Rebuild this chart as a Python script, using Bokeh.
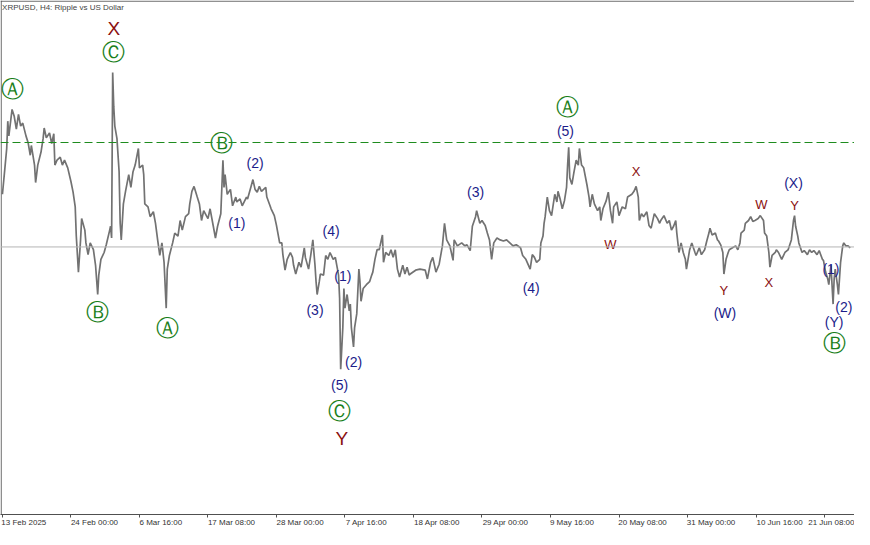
from bokeh.plotting import figure
from bokeh.models import ColumnDataSource, Span, Label, FixedTicker, Range1d
from bokeh.core.properties import value
from bokeh.embed import file_html
from bokeh.resources import INLINE

# XRPUSD H4 closes (bar index from 13 Feb 2025 08:00, price in USD)
bars = [
    0, 2, 4, 5, 6, 9, 11, 13, 15, 17, 19, 22, 24, 26, 27, 30, 31, 33, 36, 38,
    39, 41, 44, 46, 48, 49, 51, 54, 56, 58, 61, 64, 66, 68, 69, 71, 73, 74, 77, 78,
    80, 82, 85, 87, 89, 90, 92, 95, 97, 100, 101, 102, 103, 104, 105, 107, 109, 110, 111, 113,
    115, 118, 120, 122, 124, 127, 128, 131, 132, 133, 136, 138, 141, 143, 145, 147, 149, 151, 153, 154,
    156, 159, 161, 164, 166, 168, 171, 174, 175, 177, 179, 182, 184, 186, 188, 192, 194, 197, 199, 201,
    204, 206, 207, 208, 210, 213, 215, 218, 219, 222, 224, 228, 229, 232, 234, 236, 238, 240, 242, 246,
    247, 250, 251, 254, 256, 259, 261, 262, 264, 266, 269, 271, 272, 274, 277, 279, 282, 283, 286, 288,
    290, 292, 293, 294, 296, 297, 300, 302, 304, 306, 309, 311, 313, 314, 315, 316, 318, 319, 320, 322,
    324, 325, 326, 328, 329, 331, 333, 334, 335, 337, 340, 343, 345, 346, 348, 350, 352, 355, 356, 358,
    361, 363, 365, 367, 369, 371, 374, 376, 378, 380, 381, 386, 390, 395, 397, 400, 402, 405, 408, 411,
    413, 415, 418, 421, 422, 425, 429, 432, 434, 437, 439, 442, 443, 446, 448, 451, 453, 455, 457, 459,
    462, 465, 468, 471, 474, 477, 480, 484, 486, 489, 493, 495, 497, 499, 502, 503, 505, 506, 507, 509,
    511, 513, 516, 518, 519, 521, 523, 525, 527, 528, 529, 530, 532, 534, 536, 538, 539, 541, 543, 546,
    548, 549, 551, 553, 556, 558, 559, 561, 564, 566, 568, 570, 571, 574, 576, 579, 582, 584, 588, 590,
    592, 594, 595, 597, 599, 602, 604, 606, 609, 612, 614, 615, 618, 621, 623, 625, 627, 629, 630, 632,
    634, 636, 638, 639, 642, 644, 647, 648, 651, 653, 656, 658, 660, 661, 663, 666, 668, 669, 671, 673,
    674, 676, 678, 679, 682, 685, 687, 689, 690, 693, 694, 697, 699, 701, 703, 706, 708, 711, 712, 714,
    716, 717, 719, 722, 723, 725, 728, 731, 733, 734, 737, 739, 740, 741, 743, 744, 747, 749, 752, 754,
    756, 758, 761, 763, 766, 767, 769, 771, 772, 774, 776, 777, 778, 780, 781, 783, 785, 786, 788, 790,
    792,
]
close = [
    2.447, 2.553, 2.662, 2.790, 2.721, 2.845, 2.813, 2.753, 2.822, 2.767, 2.781, 2.721, 2.689, 2.630, 2.676, 2.584, 2.502, 2.584, 2.644, 2.708,
    2.758, 2.712, 2.735, 2.685, 2.731, 2.584, 2.607, 2.621, 2.584, 2.607, 2.571, 2.507, 2.457, 2.388, 2.251, 2.082, 2.233, 2.333, 2.279, 2.219,
    2.164, 2.219, 2.187, 2.114, 1.977, 2.068, 2.142, 2.174, 2.210, 2.274, 2.297, 2.242, 3.018, 2.858, 2.767, 2.708, 2.553, 2.311, 2.233, 2.402,
    2.461, 2.539, 2.479, 2.553, 2.584, 2.662, 2.571, 2.584, 2.539, 2.402, 2.388, 2.342, 2.365, 2.311, 2.233, 2.160, 2.219, 2.128, 1.913, 2.096,
    2.160, 2.219, 2.265, 2.251, 2.324, 2.279, 2.342, 2.356, 2.402, 2.461, 2.484, 2.434, 2.402, 2.324, 2.370, 2.333, 2.379, 2.297, 2.242, 2.297,
    2.356, 2.607, 2.479, 2.539, 2.447, 2.470, 2.393, 2.434, 2.411, 2.425, 2.393, 2.434, 2.425, 2.479, 2.516, 2.470, 2.457, 2.484, 2.461, 2.479,
    2.434, 2.393, 2.379, 2.347, 2.301, 2.219, 2.219, 2.164, 2.091, 2.142, 2.174, 2.151, 2.114, 2.073, 2.128, 2.105, 2.196, 2.151, 2.096, 2.160,
    2.233, 2.114, 2.037, 1.977, 2.037, 2.073, 2.068, 2.160, 2.142, 2.174, 2.142, 2.151, 2.096, 2.068, 1.959, 1.626, 1.822, 2.005, 1.913, 1.977,
    1.900, 1.932, 1.822, 1.731, 1.822, 1.886, 2.096, 2.037, 1.945, 2.005, 2.023, 2.037, 2.068, 2.082, 2.142, 2.187, 2.187, 2.256, 2.128, 2.174,
    2.160, 2.187, 2.151, 2.187, 2.096, 2.059, 2.114, 2.073, 2.105, 2.068, 2.073, 2.091, 2.096, 2.091, 2.050, 2.128, 2.151, 2.082, 2.119, 2.205,
    2.311, 2.233, 2.205, 2.137, 2.233, 2.205, 2.219, 2.205, 2.210, 2.183, 2.297, 2.342, 2.370, 2.311, 2.324, 2.301, 2.265, 2.233, 2.142, 2.219,
    2.242, 2.233, 2.228, 2.233, 2.219, 2.205, 2.210, 2.196, 2.160, 2.142, 2.096, 2.164, 2.151, 2.128, 2.142, 2.219, 2.251, 2.311, 2.342, 2.434,
    2.370, 2.347, 2.447, 2.411, 2.461, 2.425, 2.379, 2.416, 2.479, 2.584, 2.667, 2.525, 2.493, 2.553, 2.607, 2.584, 2.662, 2.584, 2.571, 2.493,
    2.434, 2.388, 2.447, 2.402, 2.370, 2.388, 2.324, 2.379, 2.416, 2.457, 2.370, 2.311, 2.388, 2.411, 2.347, 2.388, 2.379, 2.434, 2.447, 2.461,
    2.484, 2.434, 2.324, 2.356, 2.342, 2.365, 2.301, 2.288, 2.356, 2.333, 2.311, 2.324, 2.347, 2.311, 2.324, 2.279, 2.297, 2.324, 2.265, 2.174,
    2.219, 2.174, 2.142, 2.096, 2.187, 2.219, 2.174, 2.160, 2.196, 2.164, 2.187, 2.228, 2.265, 2.288, 2.256, 2.265, 2.233, 2.228, 2.210, 2.174,
    2.073, 2.142, 2.174, 2.187, 2.196, 2.205, 2.187, 2.219, 2.265, 2.279, 2.311, 2.324, 2.342, 2.320, 2.324, 2.333, 2.347, 2.324, 2.265, 2.251,
    2.174, 2.105, 2.160, 2.174, 2.187, 2.174, 2.142, 2.174, 2.183, 2.187, 2.233, 2.324, 2.347, 2.297, 2.251, 2.219, 2.174, 2.183, 2.164, 2.187,
    2.174, 2.183, 2.164, 2.183, 2.142, 2.137, 2.082, 2.050, 2.023, 2.114, 1.932, 2.050, 2.096, 2.023, 1.977, 2.128, 2.205, 2.219, 2.205, 2.205,
    2.196,
]

tick_bars = [0, 64, 128, 192, 256, 320, 384, 448, 512, 576, 640, 704, 768]
tick_labels = [
    "13 Feb 2025", "24 Feb 00:00", "6 Mar 16:00", "17 Mar 08:00", "28 Mar 00:00",
    "7 Apr 16:00", "18 Apr 08:00", "29 Apr 00:00", "9 May 16:00", "20 May 08:00",
    "31 May 00:00", "10 Jun 16:00", "21 Jun 08:00",
]

level_dashed = 2.69
level_solid = 2.20

# Elliott wave marks
circled_text = ["Ⓐ", "Ⓒ", "Ⓑ", "Ⓑ", "Ⓐ", "Ⓒ", "Ⓐ", "Ⓑ"]
circled_bar = [9, 104, 205, 89, 154, 315, 528, 777]
circled_price = [2.941, 3.114, 2.689, 1.895, 1.822, 1.429, 2.858, 1.749]

big_text = ["X", "Y"]
big_bar = [104, 317]
big_price = [3.224, 1.301]

small_text = ["X", "W", "W", "Y", "Y", "X"]
small_bar = [592, 568, 709, 740, 674, 716]
small_price = [2.553, 2.210, 2.397, 2.393, 1.995, 2.032]

num_text = ["(2)", "(1)", "(4)", "(1)", "(3)", "(2)", "(5)", "(3)", "(4)", "(5)",
            "(X)", "(W)", "(1)", "(2)", "(Y)"]
num_bar = [236, 219, 307, 318, 292, 328, 315, 442, 494, 526, 739, 675, 774, 786, 777]
num_price = [2.594, 2.311, 2.274, 2.064, 1.904, 1.662, 1.553, 2.457, 2.009, 2.744,
             2.498, 1.890, 2.096, 1.918, 1.849]

x_start, x_end = -1.8, 796.0
y_start, y_end = 0.945, 3.356

p = figure(
    width=854,
    height=529,
    x_range=Range1d(x_start, x_end),
    y_range=Range1d(y_start, y_end),
    y_axis_location=None,
    output_backend="svg",
    toolbar_location=None,
    min_border=0,
)
p.min_border_left = 0
p.min_border_right = 0
p.min_border_top = 0
p.min_border_bottom = 0
p.grid.visible = False
p.outline_line_color = None

# frame edges on the left and top
p.add_layout(Span(location=x_start + 0.6, dimension="height", line_color="#505050", line_width=1))
p.add_layout(Span(location=y_end - 0.003, dimension="width", line_color="#505050", line_width=1))

p.add_layout(Span(location=level_solid, dimension="width", line_color="#b4b4b4", line_width=1))
p.add_layout(Span(location=level_dashed, dimension="width", line_color="#1e8c1e",
                  line_width=1.2, line_dash="8 4"))

p.line(bars, close, line_color="#727272", line_width=1.7)

# MetaTrader style labels start at the tick, so centre them to the right of it
px_per_bar = 854 / (x_end - x_start)
label_centres = [int(round(b + (len(t) * 3.8 / 2 + 1) / px_per_bar)) for b, t in zip(tick_bars, tick_labels)]
p.xaxis.ticker = FixedTicker(ticks=label_centres, minor_ticks=tick_bars)
p.xaxis.major_label_overrides = {c: t for c, t in zip(label_centres, tick_labels)}
p.xaxis.axis_label = None
p.xaxis.major_tick_in = 0
p.xaxis.major_tick_out = 0
p.xaxis.minor_tick_in = 0
p.xaxis.minor_tick_out = 3
p.xaxis.minor_tick_line_color = "#505050"
p.xaxis.axis_line_color = "#505050"
p.xaxis.major_label_standoff = 0
p.xaxis.axis_label_standoff = 0
p.xaxis.major_label_text_font = "Liberation Sans"
p.xaxis.major_label_text_font_size = "8px"
p.xaxis.major_label_text_color = "#333333"

p.add_layout(Label(x=x_start + 1.5, y=y_end - 0.01, text="XRPUSD, H4:  Ripple vs US Dollar",
                   text_font="Liberation Sans", text_font_size="8px", text_color="#444444",
                   text_baseline="top"))

circled = ColumnDataSource(dict(x=circled_bar, y=circled_price, t=circled_text))
p.text(x="x", y="y", text="t", source=circled, text_font=value("DejaVu Sans"),
       text_font_size="23px", text_color="#1b7f1b", text_align="center", text_baseline="middle")

big = ColumnDataSource(dict(x=big_bar, y=big_price, t=big_text))
p.text(x="x", y="y", text="t", source=big, text_font=value("Liberation Sans"),
       text_font_size="19px", text_color="#8b1010", text_align="center", text_baseline="middle")

small = ColumnDataSource(dict(x=small_bar, y=small_price, t=small_text))
p.text(x="x", y="y", text="t", source=small, text_font=value("Liberation Sans"),
       text_font_size="13px", text_color="#8b1010", text_align="center", text_baseline="middle")

nums = ColumnDataSource(dict(x=num_bar, y=num_price, t=num_text))
p.text(x="x", y="y", text="t", source=nums, text_font=value("Liberation Sans"),
       text_font_size="14px", text_color="#1c1c8a", text_align="center", text_baseline="middle")

open("out.html", "w").write(file_html(p, INLINE))
